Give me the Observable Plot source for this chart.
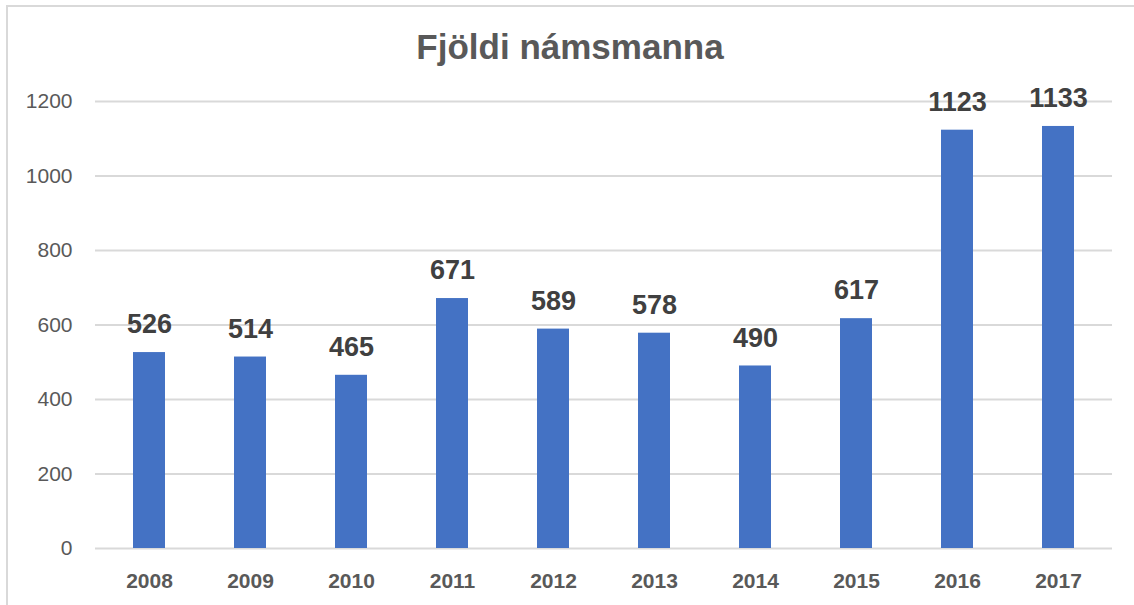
<!DOCTYPE html>
<html>
<head>
<meta charset="utf-8">
<script src="https://cdn.jsdelivr.net/npm/d3@7"></script>
<script src="https://cdn.jsdelivr.net/npm/@observablehq/plot@0.6"></script>
<style>
  html, body { margin: 0; padding: 0; background: #fff; }
  #wrap { position: relative; width: 1134px; height: 605px; overflow: hidden; }
  #frame { position: absolute; left: 6px; top: 5px; width: 1200px; height: 700px;
           border-left: 2px solid #d9d9d9; border-top: 2px solid #d9d9d9; }
  #title { position: absolute; left: 0; top: 27px; width: 1140px; text-align: center;
           font-family: "Liberation Sans", Arial, sans-serif; font-weight: bold;
           font-size: 35px; line-height: 40px; color: #595959; }
  #chart { position: absolute; left: 0; top: 80px; }
</style>
</head>
<body>
<div id="wrap">
  <div id="frame"></div>
  <div id="title">Fjöldi námsmanna</div>
  <div id="chart"></div>
</div>
<script>
const years = ["2008", "2009", "2010", "2011", "2012", "2013", "2014", "2015", "2016", "2017"];
const counts = [526, 514, 465, 671, 589, 578, 490, 617, 1123, 1133];
const yTicks = [0, 200, 400, 600, 800, 1000, 1200];

const data = years.map((y, i) => ({year: y, count: counts[i]}));

const chart = Plot.plot({
  width: 1134,
  height: 525,
  marginTop: 21,
  marginBottom: 57,
  marginLeft: 95,
  marginRight: 22,
  style: {fontFamily: "Liberation Sans, Arial, sans-serif", background: "transparent", overflow: "visible"},
  x: {domain: years, paddingInner: 0.685, paddingOuter: 0.3425, label: null},
  y: {domain: [0, 1200], label: null},
  marks: [
    Plot.gridY(yTicks, {stroke: "#d9d9d9", strokeOpacity: 1, strokeWidth: 2}),
    Plot.axisY(yTicks, {tickSize: 0, tickPadding: 23, fontSize: 21, fill: "#595959", label: null, tickFormat: d => String(d)}),
    Plot.axisX({tickSize: 0, tickPadding: 25, fontSize: 21, fontWeight: "bold", fill: "#595959", label: null}),
    Plot.barY(data, {x: "year", y: "count", fill: "#4472c4"}),
    Plot.text(data, {x: "year", y: "count", text: d => String(d.count), dy: -28,
      fontSize: 27, fontWeight: "bold", fill: "#404040"})
  ]
});
document.getElementById("chart").appendChild(chart);
</script>
</body>
</html>
